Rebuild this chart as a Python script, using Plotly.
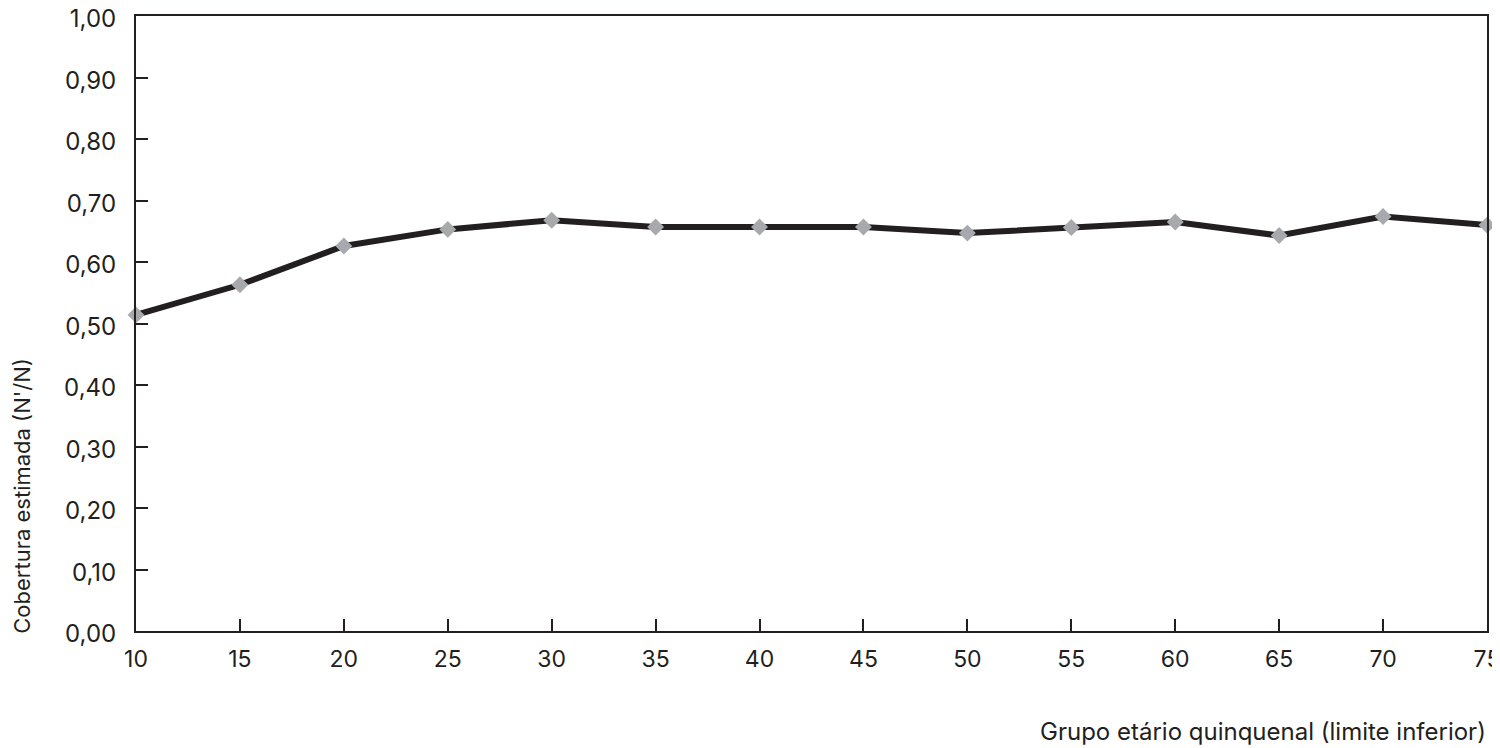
import plotly.graph_objects as go

ages = [10, 15, 20, 25, 30, 35, 40, 45, 50, 55, 60, 65, 70, 75]
coverage = [0.514, 0.563, 0.626, 0.653, 0.668, 0.657, 0.657, 0.657, 0.647, 0.656, 0.665, 0.643, 0.674, 0.660]
y_ticks = [0.0, 0.1, 0.2, 0.3, 0.4, 0.5, 0.6, 0.7, 0.8, 0.9, 1.0]
y_labels = ["0,00", "0,10", "0,20", "0,30", "0,40", "0,50", "0,60", "0,70", "0,80", "0,90", "1,00"]

FONT = "Inter, Lato, sans-serif"
INK = "#231f20"

fig = go.Figure()
fig.add_trace(go.Scatter(
    x=ages, y=coverage, mode="lines+markers",
    line=dict(color=INK, width=6),
    marker=dict(symbol="diamond", size=13, color="#a7a9ac"),
    cliponaxis=False, showlegend=False,
))

fig.update_layout(
    width=1500, height=748,
    margin=dict(l=128, r=21, t=8, b=125),
    paper_bgcolor="white", plot_bgcolor="white",
    font=dict(family=FONT, size=23, color=INK),
    xaxis=dict(
        range=[10, 75], tickvals=ages, ticktext=[str(a) for a in ages],
        ticks="inside", ticklen=12, tickwidth=2, tickcolor=INK,
        showline=True, linecolor=INK, linewidth=2, mirror=True,
        showgrid=False, zeroline=False, ticklabelstandoff=6,
        automargin=False, ticklabeloverflow="allow",
        tickfont=dict(size=23, family=FONT, color=INK),
    ),
    yaxis=dict(
        range=[0, 1], tickvals=y_ticks, ticktext=y_labels,
        ticks="inside", ticklen=12, tickwidth=2, tickcolor=INK,
        showline=True, linecolor=INK, linewidth=2, mirror=True,
        showgrid=False, zeroline=False, ticklabelstandoff=13,
        ticklabelshift=3,
        automargin=False, ticklabeloverflow="allow",
        tickfont=dict(size=24, family=FONT, color=INK),
    ),
)

fig.add_annotation(
    text="Cobertura estimada (N'/N)", textangle=-90,
    xref="paper", yref="paper", x=0, y=0.22, xshift=-129,
    xanchor="left", yanchor="middle", showarrow=False,
    font=dict(size=22, family=FONT, color=INK),
)

fig.add_annotation(
    text="Grupo etário quinquenal (limite inferior)",
    xref="paper", yref="paper", x=1.0, y=0, yshift=-84, xshift=1,
    xanchor="right", yanchor="top", showarrow=False,
    font=dict(size=24, family=FONT, color=INK),
)

fig.write_html("out.html")
